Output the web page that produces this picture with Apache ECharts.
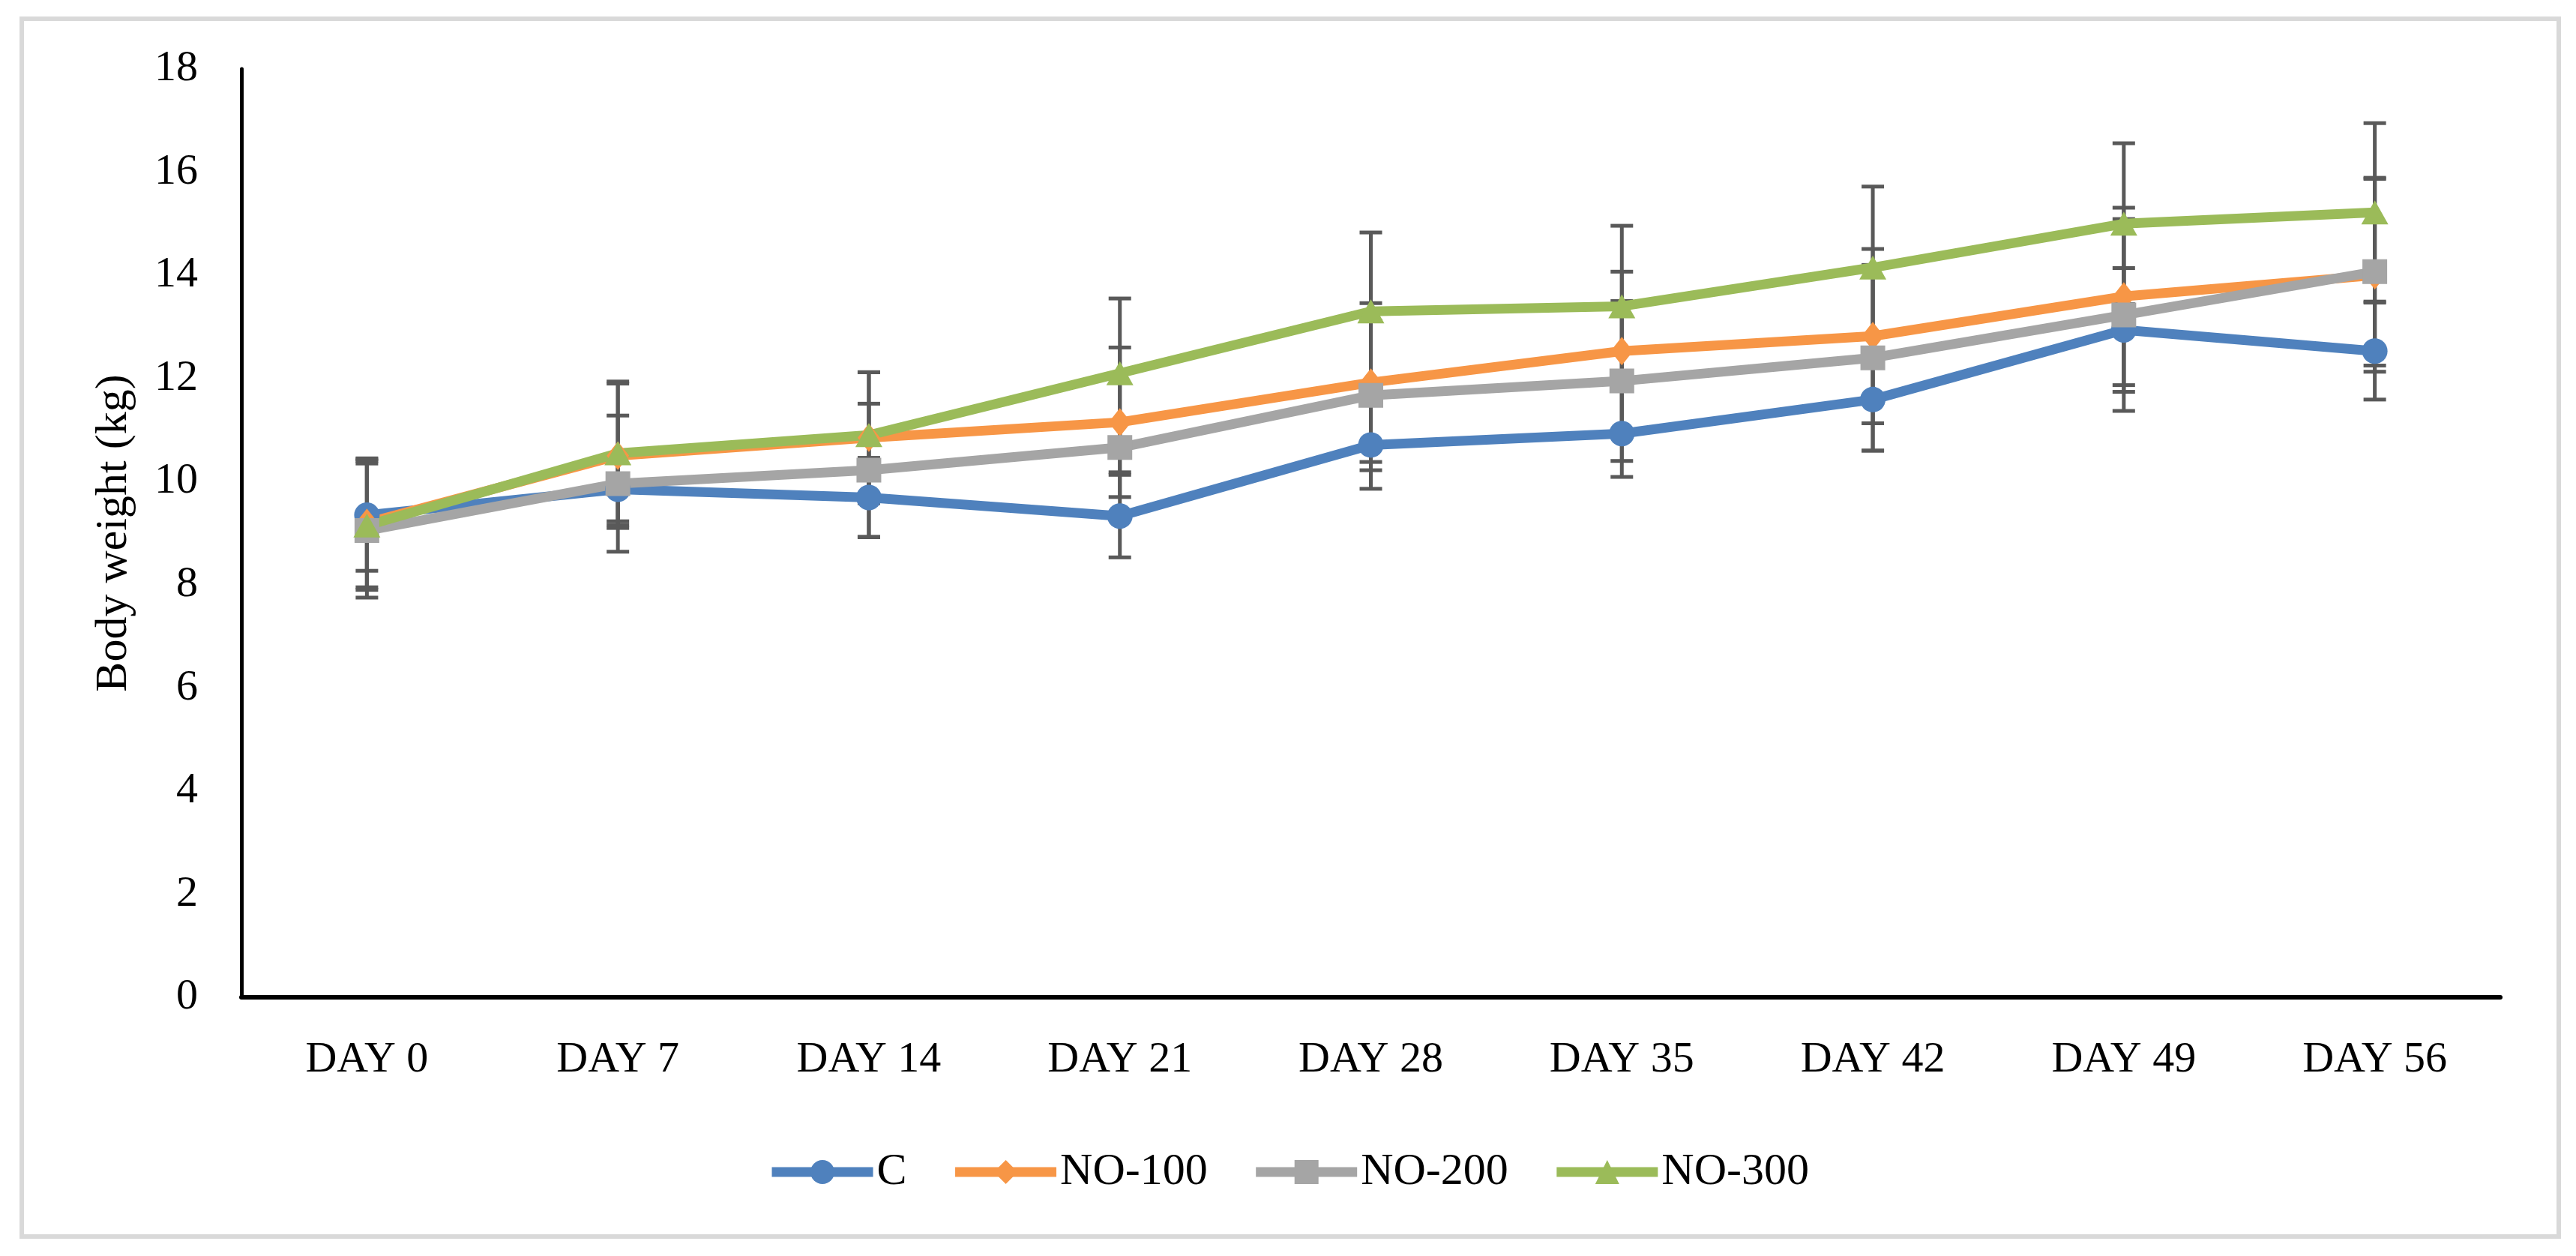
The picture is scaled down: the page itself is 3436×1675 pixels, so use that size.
<!DOCTYPE html>
<html>
<head>
<meta charset="utf-8">
<script src="https://cdn.jsdelivr.net/npm/echarts@6/dist/echarts.min.js"></script>
<style>
html,body{margin:0;padding:0;background:#fff;}
#chart{width:3436px;height:1675px;}
</style>
</head>
<body>
<div id="chart"></div>
<script>
const categories = ['DAY 0','DAY 7','DAY 14','DAY 21','DAY 28','DAY 35','DAY 42','DAY 49','DAY 56'];
const seriesNames = ['C','NO-100','NO-200','NO-300'];
const cVals     = [9.35, 9.85, 9.69, 9.33, 10.71, 10.93, 11.59, 12.94, 12.53];
const no100Vals = [9.20, 10.50, 10.85, 11.15, 11.92, 12.53, 12.82, 13.59, 14.00];
const no200Vals = [9.05, 9.96, 10.22, 10.66, 11.67, 11.95, 12.40, 13.23, 14.07];
const no300Vals = [9.15, 10.55, 10.90, 12.10, 13.30, 13.40, 14.15, 15.00, 15.22];
const cErr      = [1.08, 0.62, 0.77, 0.80, 0.85, 0.84, 0.99, 1.20, 0.94];
const no100Err  = [1.25, 1.40, 1.27, 1.45, 1.54, 1.54, 1.69, 1.72, 1.87];
const no200Err  = [1.30, 1.32, 1.29, 0.48, 1.45, 1.55, 1.80, 1.86, 1.82];
const no300Err  = [1.25, 1.39, 1.22, 1.45, 1.53, 1.56, 1.57, 1.56, 1.73];
const yTicks = {min: 0, max: 18, interval: 2};

const colors = ['#4F81BD', '#F79646', '#A5A5A5', '#9BBB59'];
const FONT = 'Liberation Serif';

function errSeries(name, vals, errs) {
  return {
    type: 'custom',
    name: name + ' err',
    z: 1,
    silent: true,
    data: vals.map((v, i) => [i, v, errs[i]]),
    encode: {x: 0, y: 1},
    renderItem: function (params, api) {
      const i = api.value(0), v = api.value(1), e = api.value(2);
      const top = api.coord([i, v + e]);
      const bot = api.coord([i, v - e]);
      const hw = 15;
      const st = {stroke: '#595959', lineWidth: 5};
      return {
        type: 'group',
        children: [
          {type: 'line', shape: {x1: top[0], y1: top[1], x2: bot[0], y2: bot[1]}, style: st},
          {type: 'line', shape: {x1: top[0] - hw, y1: top[1], x2: top[0] + hw, y2: top[1]}, style: st},
          {type: 'line', shape: {x1: bot[0] - hw, y1: bot[1], x2: bot[0] + hw, y2: bot[1]}, style: st}
        ]
      };
    }
  };
}

function lineSeries(name, vals, color, symbol, size) {
  return {
    type: 'line',
    name: name,
    data: vals,
    z: 3,
    symbol: symbol,
    symbolSize: size,
    showAllSymbol: true,
    lineStyle: {color: color, width: 13},
    itemStyle: {color: color},
    color: color
  };
}

const chart = echarts.init(document.getElementById('chart'));
chart.setOption({
  animation: false,
  backgroundColor: '#ffffff',
  graphic: [{
    type: 'rect',
    left: 26, top: 22,
    shape: {x: 0, y: 0, width: 3384, height: 1624},
    style: {fill: 'none', stroke: '#D9D9D9', lineWidth: 6},
    silent: true
  }],
  grid: {left: 322, right: 101, top: 92, bottom: 345, containLabel: false},
  legend: {
    data: seriesNames,
    left: 'center',
    top: 1528,
    itemWidth: 135,
    itemHeight: 40,
    itemGap: 58,
    lineStyle: {width: 13},
    textStyle: {fontFamily: FONT, fontSize: 60, color: '#000'}
  },
  xAxis: {
    type: 'category',
    data: categories,
    boundaryGap: true,
    axisLine: {lineStyle: {color: '#000', width: 6}},
    axisTick: {show: false},
    axisLabel: {fontFamily: FONT, fontSize: 58, color: '#000', margin: 55}
  },
  yAxis: {
    type: 'value',
    min: yTicks.min, max: yTicks.max, interval: yTicks.interval,
    name: 'Body weight (kg)',
    nameLocation: 'middle',
    nameRotate: 90,
    nameGap: 140,
    nameTextStyle: {fontFamily: FONT, fontSize: 60, color: '#000'},
    axisLine: {show: true, lineStyle: {color: '#000', width: 5}},
    axisTick: {show: false},
    splitLine: {show: false},
    axisLabel: {fontFamily: FONT, fontSize: 58, color: '#000', margin: 58}
  },
  series: [
    errSeries('C', cVals, cErr),
    errSeries('NO-100', no100Vals, no100Err),
    errSeries('NO-200', no200Vals, no200Err),
    errSeries('NO-300', no300Vals, no300Err),
    lineSeries('C', cVals, colors[0], 'circle', 34),
    lineSeries('NO-100', no100Vals, colors[1], 'diamond', [30, 38]),
    lineSeries('NO-200', no200Vals, colors[2], 'rect', 33),
    lineSeries('NO-300', no300Vals, colors[3], 'triangle', [36, 32])
  ]
});
</script>
</body>
</html>
